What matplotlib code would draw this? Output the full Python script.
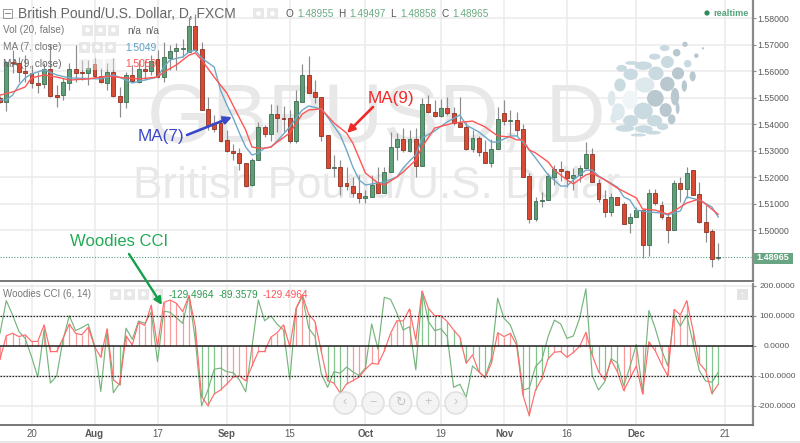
import matplotlib
matplotlib.use("Agg")
import matplotlib.pyplot as plt
from matplotlib.patches import Ellipse, Rectangle, Circle

plt.rcParams['font.family'] = ['Liberation Sans', 'DejaVu Sans']

opens = [1.5498,1.5483,1.5634,1.5630,1.5600,1.5592,1.5555,1.5551,1.5608,1.5509,
         1.5509,1.5555,1.5608,1.5596,1.5592,1.5626,1.5581,1.5555,1.5596,1.5506,
         1.5483,1.5585,1.5558,1.5608,1.5600,1.5645,1.5577,1.5649,1.5675,1.5683,
         1.5672,1.5770,1.5683,1.5457,1.5404,1.5404,1.5340,1.5298,1.5291,1.5253,
         1.5170,1.5264,1.5389,1.5362,1.5438,1.5423,1.5423,1.5336,1.5483,1.5585,
         1.5521,1.5502,1.5358,1.5234,1.5238,1.5177,1.5166,1.5140,1.5121,1.5125,
         1.5181,1.5140,1.5219,1.5313,1.5343,1.5298,1.5343,1.5242,1.5475,1.5445,
         1.5430,1.5460,1.5442,1.5404,1.5389,1.5306,1.5347,1.5294,1.5253,1.5306,
         1.5442,1.5411,1.5415,1.5381,1.5204,1.5042,1.5109,1.5113,1.5200,1.5230,
         1.5223,1.5196,1.5208,1.5234,1.5287,1.5177,1.5117,1.5068,1.5125,1.5098,
         1.5026,1.5049,1.5075,1.4943,1.5140,1.5094,1.5049,1.5000,1.5177,1.5155,
         1.5226,1.5136,1.5030,1.4996,1.48955]
closes = [1.5483,1.5634,1.5630,1.5596,1.5592,1.5555,1.5547,1.5608,1.5506,1.5502,
          1.5558,1.5608,1.5592,1.5592,1.5611,1.5581,1.5558,1.5596,1.5506,1.5483,
          1.5585,1.5562,1.5608,1.5600,1.5638,1.5577,1.5653,1.5675,1.5687,1.5687,
          1.5770,1.5679,1.5453,1.5396,1.5381,1.5336,1.5298,1.5291,1.5253,1.5166,
          1.5264,1.5389,1.5362,1.5438,1.5423,1.5419,1.5336,1.5487,1.5585,1.5517,
          1.5502,1.5355,1.5234,1.5238,1.5166,1.5166,1.5140,1.5121,1.5128,1.5170,
          1.5140,1.5219,1.5313,1.5343,1.5302,1.5343,1.5242,1.5475,1.5445,1.5430,
          1.5460,1.5442,1.5404,1.5389,1.5306,1.5347,1.5294,1.5253,1.5306,1.5419,
          1.5411,1.5415,1.5377,1.5200,1.5042,1.5109,1.5113,1.5204,1.5230,1.5223,
          1.5196,1.5208,1.5234,1.5287,1.5181,1.5117,1.5068,1.5125,1.5094,1.5023,
          1.5049,1.5075,1.4943,1.5140,1.5102,1.5049,1.5000,1.5177,1.5155,1.5215,
          1.5132,1.5030,1.4992,1.4891,1.48965]
highs = [1.5506,1.5638,1.5679,1.5653,1.5660,1.5623,1.5596,1.5630,1.5702,1.5547,
         1.5574,1.5630,1.5698,1.5642,1.5642,1.5649,1.5611,1.5630,1.5649,1.5540,
         1.5596,1.5623,1.5642,1.5642,1.5660,1.5679,1.5709,1.5698,1.5706,1.5721,
         1.5804,1.5815,1.5709,1.5502,1.5434,1.5434,1.5377,1.5325,1.5309,1.5253,
         1.5272,1.5408,1.5396,1.5475,1.5472,1.5468,1.5453,1.5528,1.5626,1.5657,
         1.5566,1.5502,1.5358,1.5283,1.5264,1.5238,1.5200,1.5208,1.5151,1.5208,
         1.5238,1.5238,1.5370,1.5366,1.5385,1.5377,1.5385,1.5498,1.5509,1.5491,
         1.5494,1.5502,1.5464,1.5502,1.5408,1.5377,1.5355,1.5340,1.5343,1.5464,
         1.5491,1.5453,1.5445,1.5400,1.5215,1.5125,1.5143,1.5215,1.5245,1.5260,
         1.5226,1.5234,1.5245,1.5332,1.5309,1.5192,1.5151,1.5140,1.5125,1.5106,
         1.5064,1.5087,1.5079,1.5155,1.5155,1.5109,1.5060,1.5189,1.5200,1.5238,
         1.5226,1.5181,1.5094,1.5004,1.49497]
lows = [1.5479,1.5449,1.5592,1.5558,1.5558,1.5536,1.5517,1.5536,1.5502,1.5464,
        1.5491,1.5528,1.5558,1.5566,1.5547,1.5574,1.5555,1.5528,1.5502,1.5426,
        1.5460,1.5558,1.5555,1.5566,1.5585,1.5574,1.5558,1.5604,1.5604,1.5653,
        1.5672,1.5672,1.5453,1.5377,1.5370,1.5332,1.5294,1.5264,1.5226,1.5162,
        1.5166,1.5264,1.5351,1.5336,1.5370,1.5370,1.5328,1.5328,1.5483,1.5517,
        1.5479,1.5336,1.5234,1.5200,1.5132,1.5151,1.5125,1.5102,1.5102,1.5125,
        1.5140,1.5140,1.5219,1.5264,1.5294,1.5294,1.5200,1.5242,1.5442,1.5426,
        1.5426,1.5434,1.5396,1.5389,1.5302,1.5294,1.5279,1.5253,1.5238,1.5306,
        1.5396,1.5351,1.5355,1.5200,1.5026,1.5034,1.5087,1.5113,1.5170,1.5185,
        1.5162,1.5151,1.5181,1.5234,1.5181,1.5106,1.5049,1.5053,1.5094,1.5023,
        1.4989,1.5049,1.4895,1.4902,1.5094,1.5042,1.4951,1.5000,1.5106,1.5121,
        1.5132,1.5026,1.4955,1.4860,1.48858]

ma7_idx = [0,1,2,3,4,5,7,9,11,16,18,20,21,23,25,26,27,29,30,31,32,34,35,36,37,38,39,40,41,42,43,
           44,45,46,47,48,49,51,52,54,55,56,57,58,60,61,63,64,65,66,67,69,71,73,74,76,78,79,81,82,83,
           84,85,87,89,90,91,93,94,95,98,99,100,101,103,105,106,108,109,111,113,114]
ma7 = [1.5491,1.5491,1.5509,1.5547,1.5574,1.5589,1.5604,1.5585,1.5574,1.5570,1.5585,1.5566,1.5555,1.5566,1.5577,
       1.5615,1.5642,1.5653,1.5672,1.5679,1.5649,1.5615,1.5528,1.5472,1.5423,1.5366,1.5313,1.5283,1.5291,1.5309,1.5313,
       1.5336,1.5362,1.5389,1.5423,1.5453,1.5468,1.5457,1.5426,1.5358,1.5302,1.5238,1.5189,1.5170,1.5177,1.5181,1.5200,
       1.5234,1.5260,1.5283,1.5347,1.5374,1.5408,1.5434,1.5396,1.5370,1.5332,1.5332,1.5355,1.5355,1.5332,
       1.5302,1.5272,1.5208,1.5166,1.5166,1.5189,1.5226,1.5226,1.5204,1.5162,1.5125,1.5113,1.5075,1.5068,1.5064,1.5057,
       1.5072,1.5125,1.5113,1.5087,1.5049]

ma9_idx = [0,2,4,5,7,9,11,14,17,20,22,25,26,28,30,31,32,34,36,38,39,40,41,42,43,44,46,48,49,51,53,55,56,57,58,60,61,
           63,64,66,67,69,72,75,77,79,81,82,83,84,85,87,88,90,91,93,94,96,98,101,102,104,106,107,109,111,114]
ma9 = [1.5509,1.5521,1.5540,1.5574,1.5585,1.5577,1.5566,1.5570,1.5581,1.5574,1.5570,1.5577,1.5596,1.5623,1.5660,1.5668,
       1.5642,1.5577,1.5517,1.5423,1.5377,1.5313,1.5309,1.5309,1.5313,1.5332,1.5366,1.5438,1.5453,1.5457,1.5404,1.5366,
       1.5328,1.5272,1.5215,1.5177,1.5170,1.5200,1.5219,1.5264,1.5313,1.5385,1.5404,1.5411,1.5389,1.5355,1.5351,1.5340,
       1.5340,1.5302,1.5291,1.5257,1.5226,1.5189,1.5174,1.5208,1.5215,1.5189,1.5158,1.5121,1.5079,1.5075,1.5060,1.5072,
       1.5102,1.5117,1.5059]

cci_fast = [41,150,102,47,24,-37,-105,52,-125,-101,19,100,50,60,72,2,-153,52,-157,-125,
            58,21,82,74,111,-53,115,111,93,74,167,19,-201,-148,-79,-75,-87,-90,-114,-154,
            -3,152,83,99,71,52,-114,124,163,58,30,-94,-139,-87,-92,-72,-87,-100,-75,72,
            -12,161,154,108,52,63,-81,180,80,50,56,30,-139,-129,-172,-68,-87,-105,-42,158,
            91,69,13,-148,-142,-70,-48,30,85,72,24,32,91,189,-100,-148,-120,-44,-57,-134,
            -70,4,-153,117,58,-14,-68,102,65,102,8,-83,-118,-122,-89.3579]
cci_slow = [-46,33,41,30,36,14,14,69,-20,-20,24,72,41,36,61,-3,-39,56,-114,-131,
            33,2,78,67,135,-3,144,152,141,113,167,63,-170,-200,-161,-148,-128,-105,-101,-117,
            -68,-20,-20,28,43,69,-3,124,169,104,80,-20,-117,-125,-159,-128,-117,-105,-79,-59,
            -62,-18,41,83,82,122,19,182,124,100,100,80,52,28,-59,-31,-87,-107,-59,43,
            30,41,2,-164,-233,-148,-111,-44,-22,-20,-39,-23,-3,44,-31,-87,-114,-48,-87,-150,
            -109,-68,-161,13,-17,-62,-101,121,102,150,52,-59,-83,-160,-129.4964]
hist_state = "R"*18 + "G"*2 + "R"*12 + "G"*4 + "R"*15 + "G"*5 + "R"*11 + "G"*12 + "R"*4 + "G"*5 + "R"*6 + "G"*5 + "R"*11 + "G"*5

x_ticks = [5,15,25,36,46,58,70,80,90,101,115]
x_labels = ['20','Aug','17','Sep','15','Oct','19','Nov','16','Dec','21']
month_labels = {'Aug','Sep','Oct','Nov','Dec'}
price_ticks = [1.50,1.51,1.52,1.53,1.54,1.55,1.56,1.57,1.58]
cci_ticks = [-200,-100,0,100,200]
last_price = 1.48965

W, H = 800, 443
fig = plt.figure(figsize=(8,4.43), dpi=100, facecolor='white')
def axpx(l,t,r,b,**k):
    return fig.add_axes([l/W, 1-b/H, (r-l)/W, (b-t)/H], **k)

GRID='#ebebeb'; AXC='#8a8a8a'; TXT='#5a5a5a'
ov = axpx(0,0,W,H,zorder=20); ov.set_xlim(0,W); ov.set_ylim(H,0); ov.axis('off')
T = ov.transData

ax = axpx(0,0,752.5,281,zorder=2)
ax2 = axpx(0,284,752.5,424.5,zorder=2)
XLIM=(0,752.5/6.3)
for a in (ax,ax2):
    a.set_xlim(*XLIM)
    a.set_xticks(x_ticks)
    a.grid(True,color=GRID,lw=1.1,zorder=0)
    a.set_axisbelow(True)
    a.yaxis.tick_right()
    a.tick_params(axis='y',length=2,color=AXC,labelcolor=TXT,labelsize=6.3,pad=1.5)
    for s in ('top','left'):
        a.spines[s].set_visible(False)
    a.spines['right'].set_color(AXC); a.spines['right'].set_linewidth(1.6)

ax.set_ylim(1.58-(281-18)/2650, 1.58+18/2650)
ax.set_yticks(price_ticks, [f'{v:.5f}' for v in price_ticks])
ax.tick_params(axis='x',length=0,labelbottom=False)
ax.spines['bottom'].set_color('#777777'); ax.spines['bottom'].set_linewidth(1.4)

# watermark
ax.text(376,142,'GBPUSD, D',transform=T,fontsize=60,color='#e8e8e8',ha='center',va='baseline',zorder=1)
ax.text(377,198,'British Pound/U.S. Dollar',transform=T,fontsize=31.7,color='#e8e8e8',ha='center',va='baseline',zorder=1)

# logo
logo = [(345,133,14,14,0),(399,145,6,6,0),(379,167,12,12,0),(320,158,20,20,0),(284,144,26,16,1),(254,170,30,16,1),
        (292,186,34,32,1),(353,191,20,20,1),(324,220,32,32,0),(368,229,16,26,0),(343,258,14,30,0),(292,252,38,38,0),
        (258,220,40,36,1),(220,197,46,22,1),(185,189,34,10,1),(155,205,28,18,1),(182,223,38,30,1),(150,255,30,34,1),
        (125,295,20,40,2),(225,255,50,40,2),(180,300,40,50,3),(256,295,44,44,0),(315,290,22,46,0),(287,330,32,36,0),
        (323,325,10,30,0),(305,358,20,26,0),(254,362,40,30,1),(220,333,50,44,1),(145,335,34,44,2),(131,355,18,26,2),
        (182,362,40,30,1),(165,385,50,18,1),(222,387,46,20,1),(278,380,30,18,1),(250,398,40,10,1),(205,405,40,8,1)]
logo_cols = ['#b9c7cf','#c9dae1','#dde9ed','#f0f5f7']
for xz,yz,wz,hz,c in logo:
    ax.add_patch(Ellipse((570+xz/3,yz/3),wz/3*1.14,hz/3*1.14,transform=T,fc=logo_cols[c],ec='none',zorder=1,clip_on=False))

# candles
xs = list(range(len(opens)))
for i,o,c,h,l in zip(xs,opens,closes,highs,lows):
    up = c>=o
    ax.vlines(i,l,h,color='#8c8c8c',lw=0.85,zorder=3)
    ax.bar(i,max(abs(c-o),0.00015),bottom=min(o,c),width=0.62,
           color='#5f9f78' if up else '#da4a33',edgecolor='#3d6b50' if up else '#8c3325',lw=0.6,zorder=4)
ax.plot(ma7_idx,ma7,color='#6fa9c9',lw=1.0,zorder=5)
ax.plot(ma9_idx,ma9,color='#ff5555',lw=1.0,zorder=6)
ax.axhline(last_price,color='#5a9e78',lw=0.8,ls=(0,(1,1.5)),zorder=2)

# CCI
ax2.set_ylim((345.6-424.5)/0.3,(345.6-284)/0.3)
ax2.set_yticks(cci_ticks,[f'{v:.4f}' for v in cci_ticks])
ax2.tick_params(axis='y',pad=15.6,labelsize=6.1)
for t in ax2.get_yticklabels():
    t.set_ha('center')
ax2.set_xticks(x_ticks,x_labels)
ax2.tick_params(axis='x',length=0,pad=3.5,labelsize=7,labelcolor=TXT)
for t in ax2.get_xticklabels():
    if t.get_text() in month_labels:
        t.set_fontweight('bold')
ax2.spines['bottom'].set_color('#777777'); ax2.spines['bottom'].set_linewidth(1.4)
ax2.vlines(xs,0,cci_slow,colors=['#f89a9a' if s=='R' else '#82c48c' for s in hist_state],lw=0.9,zorder=3)
ax2.plot(xs,cci_fast,color='#76b57c',lw=0.85,zorder=4)
ax2.plot(xs,cci_slow,color='#ff6b6b',lw=0.85,zorder=5)
ax2.axhline(0,color='#222222',lw=1.1,zorder=6)
for v in (100,-100):
    ax2.axhline(v,color='#222222',lw=0.9,ls=(0,(1.3,1.1)),zorder=6)

# overlay texts
def icon(x,y,w=11):
    ov.add_patch(Rectangle((x,y-5.5),w,11,fc='#e6e6e6',ec='none',alpha=.9))
    ov.add_patch(Circle((x+w/2,y),2.4,fc='white',ec='none'))

ov.add_patch(Rectangle((3,8.5),9,9,fc='none',ec='#999999',lw=0.7))
ov.plot([5,10],[13,13],color='#888888',lw=0.7)
ov.text(18,13.5,'British Pound/U.S. Dollar, D, FXCM',fontsize=10,color='#666666',va='center')
ov.text(3,30,'Vol (20, false)',fontsize=7.2,color='#777777',va='center')
ov.text(3,47,'MA (7, close)',fontsize=7.2,color='#777777',va='center')
ov.text(3,64,'MA (9, close)',fontsize=7.2,color='#666666',va='center')
for x in (82,95,108): icon(x,30)
for x in (79,92,105): icon(x,47)
for x in (79,92,105): ov.add_patch(Rectangle((x,58.5),11,11,fc='#e6e6e6',ec='none',alpha=.45))
ov.text(127,30.5,'n/a',fontsize=7.2,color='#666666',va='center')
ov.text(145,30.5,'n/a',fontsize=7.2,color='#666666',va='center')
ov.text(125,47.5,'1.5049',fontsize=7.4,color='#5c9fc4',va='center')
ov.text(125,64,'1.5059',fontsize=7.4,color='#ff5555',va='center')
for x in (253,267): icon(x,13.5)
for x,s,c in [(285,'O','#555555'),(297,'1.48955','#6aab82'),(338,'H','#555555'),(349,'1.49497','#6aab82'),
              (390,'L','#555555'),(400,'1.48858','#6aab82'),(441,'C','#555555'),(452,'1.48965','#6aab82')]:
    ov.text(x,13.5,s,fontsize=7.2,color=c,va='center')
ov.add_patch(Circle((707,13),2.6,fc='#2e8b57',ec='none'))
ov.text(713,13,'realtime',fontsize=6.6,color='#55a37a',va='center',fontweight='bold')

ov.add_patch(Rectangle((753,252.5),40,11,fc='#6aa583',ec='none'))
ov.text(773,258,f'{last_price:.5f}',fontsize=6.5,color='white',ha='center',va='center',fontweight='bold')

ov.text(3,294,'Woodies CCI (6, 14)',fontsize=7,color='#777777',va='center')
for x in (110,124,138,152): icon(x,294)
ov.text(169,294.5,'-129.4964',fontsize=7.2,color='#2e9a4e',va='center')
ov.text(219,294.5,'-89.3579',fontsize=7.2,color='#2e9a4e',va='center')
ov.text(263,294.5,'-129.4964',fontsize=7.2,color='#ff5555',va='center')
ov.add_patch(Rectangle((737,289),11,11,fc='#e4e4e4',ec='none'))
ov.text(742.5,294.5,'\u2191',fontsize=7,color='white',ha='center',va='center',fontweight='bold')

for x,s in zip((345,373,400.5,428,456),('\u2039','\u2212','\u21bb','+','\u203a')):
    ov.add_patch(Circle((x,403),11,fc='#f3f3f3',ec='#dcdcdc',lw=1.2,alpha=.85))
    ov.text(x,402.5,s,fontsize=9,color='#c4c4c4',ha='center',va='center')

ov.text(138,136,'MA(7)',fontsize=12.3,color='#3a48c8',va='center')
ov.annotate('',xy=(232,117),xytext=(187,135),arrowprops=dict(arrowstyle='-|>',color='#3a48c8',lw=1.9,mutation_scale=11,shrinkA=0,shrinkB=0))
ov.text(368,98,'MA(9)',fontsize=12.3,color='#ee2a2a',va='center')
ov.annotate('',xy=(347,133),xytext=(373,107),arrowprops=dict(arrowstyle='-|>',color='#ee2a2a',lw=1.9,mutation_scale=11,shrinkA=0,shrinkB=0))
ov.text(70,241,'Woodies CCI',fontsize=12,color='#22aa55',va='center')
ov.annotate('',xy=(162,305),xytext=(129,254),arrowprops=dict(arrowstyle='-|>',color='#13a04a',lw=1.7,mutation_scale=11,shrinkA=0,shrinkB=0))

ov.add_patch(Rectangle((0,441),W,2,fc='#e8e8e8',ec='none'))

fig.savefig('out.png',dpi=100)
